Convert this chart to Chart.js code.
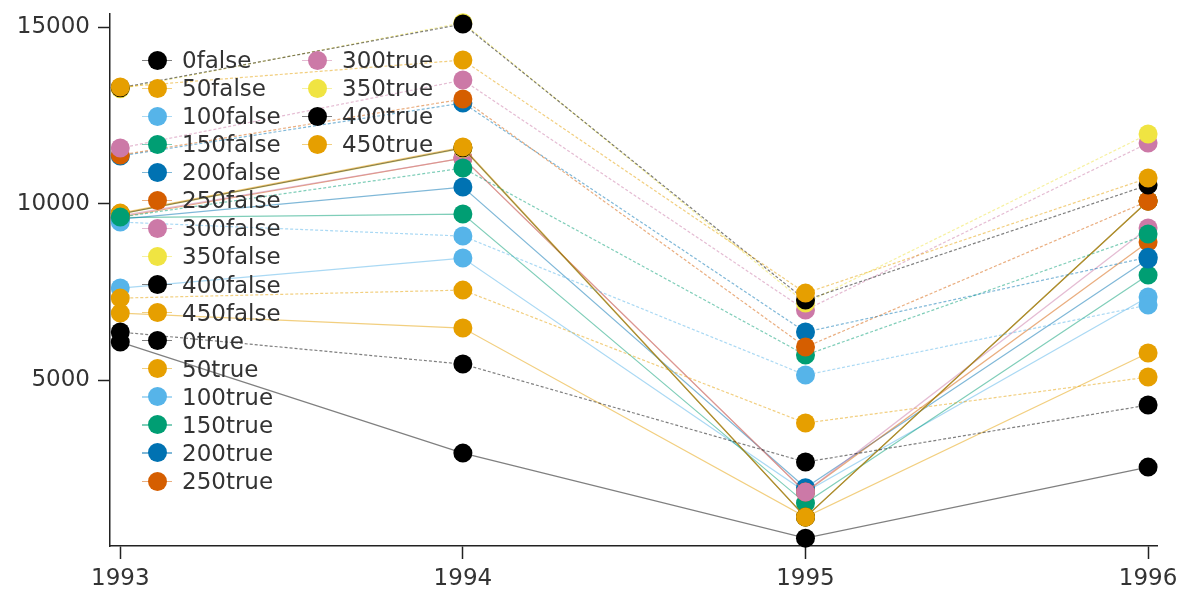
<!DOCTYPE html>
<html>
<head>
<meta charset="utf-8">
<script src="https://cdn.jsdelivr.net/npm/chart.js@4.4.1/dist/chart.umd.min.js"></script>
<style>
    html, body { margin: 0; padding: 0; background: #fff; }
    #wrap { position: relative; width: 1181px; height: 591px; }
    #legend { position: absolute; left: 0; top: 0; font-family: 'DejaVu Sans', sans-serif; font-size: 23px; color: #333; }
    .item { position: absolute; height: 28px; line-height: 28px; white-space: nowrap; }
    .ln { position: absolute; left: 0; width: 30px; top: 13.5px; height: 1.2px; opacity: 0.5; }
    .dot { position: absolute; left: 5.5px; top: 4.5px; width: 19px; height: 19px; border-radius: 50%; }
    .lbl { position: absolute; left: 40px; top: 0; }
</style>
</head>
<body>
<div id="wrap">
    <canvas id="chart" width="1181" height="591"></canvas>
    <div id="legend"></div>
</div>
<script>
const years = [1993, 1994, 1995, 1996];
const yTicks = [5000, 10000, 15000];
const groups = ['0', '50', '100', '150', '200', '250', '300', '350', '400', '450'];
const colors = ['#000000', '#E69F00', '#56B4E9', '#009E73', '#0072B2', '#D55E00', '#CC79A7', '#F0E442', '#000000', '#E69F00'];

// values per group, in the order of groups, one entry per year
const falseValues = [
    [6360, 5453, 2677, 4292],
    [7322, 7549, 3782, 5085],
    [9475, 9079, 5142, 7125],
    [9617, 11006, 5708, 9136],
    [11350, 12850, 6360, 8480],
    [11374, 12960, 5935, 10071],
    [11572, 13498, 6983, 11714],
    [13250, 15120, 7180, 11969],
    [13280, 15085, 7266, 10524],
    [13300, 14065, 7464, 10722]
];
const trueValues = [
    [6076, 2931, 523, 2535],
    [6897, 6473, 1118, 5765],
    [7606, 8456, 1827, 7351],
    [9600, 9702, 1515, 7974],
    [9560, 10467, 1950, 8427],
    [9620, 11289, 1827, 8909],
    [9650, 11289, 1827, 9306],
    [9700, 11560, 1118, 10071],
    [9710, 11580, 1118, 10071],
    [9730, 11600, 1118, 10071]
];

function alpha(hex, a) {
    const n = parseInt(hex.slice(1), 16);
    return `rgba(${(n >> 16) & 255}, ${(n >> 8) & 255}, ${n & 255}, ${a})`;
}

const series = [];
groups.forEach((g, i) => series.push({ label: g + 'false', color: colors[i], values: falseValues[i], dashed: true, layer: 10 - i }));
groups.forEach((g, i) => series.push({ label: g + 'true', color: colors[i], values: trueValues[i], dashed: false, layer: 20 - i }));

const datasets = series.map(s => ({
    label: s.label,
    data: s.values.map((v, k) => ({ x: years[k], y: v })),
    borderColor: alpha(s.color, 0.5),
    borderWidth: 1.2,
    borderDash: s.dashed ? [3, 2] : [],
    backgroundColor: s.color,
    pointBackgroundColor: s.color,
    pointBorderWidth: 0,
    pointRadius: 9.5,
    tension: 0,
    clip: false,
    order: s.layer   // true series underneath, false series on top
}));

const font = { family: "'DejaVu Sans', sans-serif", size: 23 };

new Chart(document.getElementById('chart').getContext('2d'), {
    type: 'line',
    data: { datasets },
    options: {
        responsive: false,
        animation: false,
        layout: { padding: { top: 14, right: 24, left: 0, bottom: 0 } },
        plugins: { legend: { display: false }, tooltip: { enabled: false } },
        scales: {
            x: {
                type: 'linear', min: 1992.97, max: 1996.026,
                afterBuildTicks: s => { s.ticks = years.map(v => ({ value: v })); },
                afterFit: s => { s.height = 45; s.paddingLeft = 0; s.paddingRight = 0; },
                grid: { drawOnChartArea: false, tickLength: 13, tickWidth: 1.5, color: '#222' },
                border: { color: '#222', width: 1.5 },
                ticks: { color: '#333', font, padding: 6, maxRotation: 0, callback: v => String(v) }
            },
            y: {
                min: 300, max: 15370,
                afterBuildTicks: s => { s.ticks = yTicks.map(v => ({ value: v })); },
                afterFit: s => { s.width = 110; s.paddingTop = 0; s.paddingBottom = 0; },
                grid: { drawOnChartArea: false, tickLength: 12, tickWidth: 1.5, color: '#222' },
                border: { color: '#222', width: 1.5 },
                ticks: { color: '#333', font, padding: 8, callback: v => String(v) }
            }
        }
    }
});

// legend drawn inside the plot, two columns
const legend = document.getElementById('legend');
legend.innerHTML = series.map((s, i) => {
    const col = i < 16 ? 0 : 1;
    const row = i < 16 ? i : i - 16;
    const cx = col === 0 ? 157 : 317;
    const cy = 60 + row * 28.07;
    return `
        <div class="item" style="left:${cx - 15}px; top:${cy - 14}px;">
            <div class="ln" style="background:${s.color};"></div>
            <div class="dot" style="background:${s.color};"></div>
            <span class="lbl">${s.label}</span>
        </div>`;
}).join('');
</script>
</body>
</html>
